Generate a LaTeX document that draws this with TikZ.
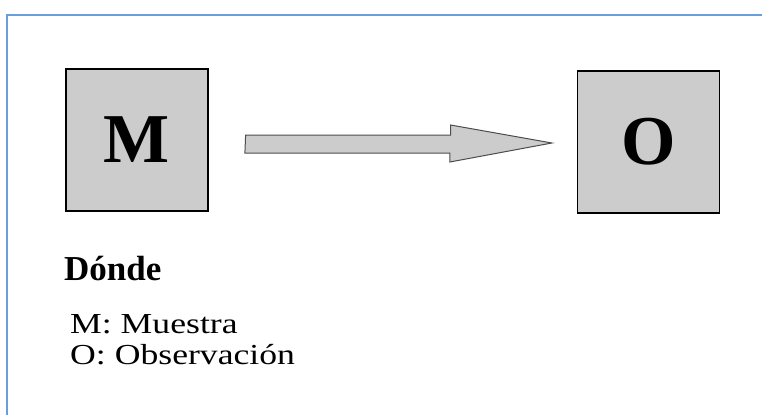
\documentclass[tikz,border=0pt]{standalone}
\usepackage{fontspec}
\setmainfont{Liberation Serif}
\newfontfamily\leyenda[FakeStretch=1.23]{Liberation Serif}
\usetikzlibrary{calc}

\definecolor{marco}{RGB}{105,160,218}
\definecolor{relleno}{RGB}{204,204,204}

\tikzset{
    caja/.style={draw=black, line width=1.2pt, fill=relleno, minimum size=142pt,
        inner sep=0pt, font=\fontsize{70}{70}\selectfont\bfseries},
    flecha/.style={draw=black!70, line width=1pt, fill=relleno, line join=miter},
    texto/.style={anchor=base west, inner sep=0pt, font=\leyenda\fontsize{29}{30}\selectfont}
}

\begin{document}
\begin{tikzpicture}[x=1pt, y=-1pt]
    \useasboundingbox (0,0) rectangle (762,415);

    % marco azul (solo arriba e izquierda)
    \draw[marco, line width=2pt] (7,415) -- (7,15) -- (762,15);

    % cajas
    \node[caja] (M) at (137,140) {M};
    \node[caja] (O) at (648.5,142) {O};

    % flecha de bloque entre las cajas
    \draw[flecha] ($(M.east)+(37,-5)$) -- ++(205,0) -- ++(0,-10)
        -- ($(O.west)+(-25,1)$) -- ++(-102,19) -- ++(0,-9) -- ++(-205,0) -- cycle;

    % leyenda
    \node[texto, font=\bfseries\fontsize{35}{36}\selectfont] (donde) at (64,280) {Dónde};
    \node[texto] (muestra) at (70,333) {M: Muestra};
    \node[texto] (obs) at (70,364) {O: Observación};
\end{tikzpicture}
\end{document}
